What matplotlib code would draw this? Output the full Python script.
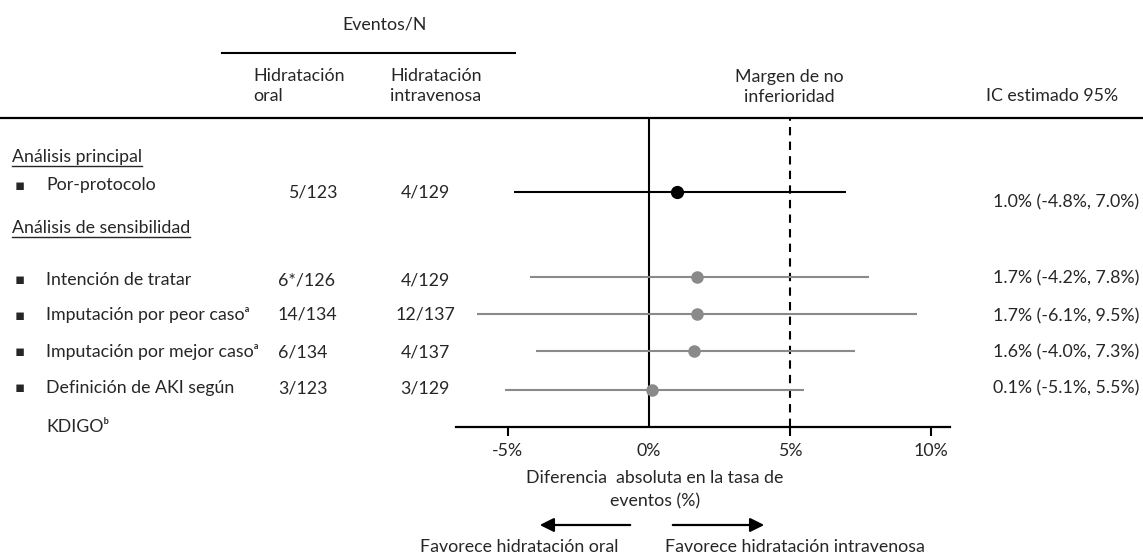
"""Forest plot: hidratación oral vs intravenosa (no inferioridad)."""
import matplotlib

matplotlib.use("Agg")
import matplotlib.pyplot as plt
from matplotlib.lines import Line2D
from matplotlib.patches import FancyArrowPatch

plt.rcParams["font.family"] = ["Lato", "DejaVu Sans"]

# --- data -------------------------------------------------------------
analyses = [
    "Por-protocolo",
    "Intención de tratar",
    "Imputación por peor casoᵃ",
    "Imputación por mejor casoᵃ",
    "Definición de AKI según",
]
oral_events = ["5/123", "6*/126", "14/134", "6/134", "3/123"]
iv_events = ["4/129", "4/129", "12/137", "4/137", "3/129"]
estimate = [1.0, 1.7, 1.7, 1.6, 0.1]
ci_low = [-4.8, -4.2, -6.1, -4.0, -5.1]
ci_high = [7.0, 7.8, 9.5, 7.3, 5.5]
margin = 5.0
x_ticks = [-5, 0, 5, 10]
x_ticklabels = ["-5%", "0%", "5%", "10%"]

# --- layout (pixels of the 1143x557 canvas) ---------------------------
W, H = 1143, 557
row_y = [192, 277, 314, 351, 390]          # marker rows
label_y = [185, 280, 315, 352, 388]
num_y = [193, 280, 315, 352, 388]
ci_y = [202, 278, 316, 352, 388]
TXT = "#262626"
GREY = "#8a8a8a"
FS = 12.8


def fx(x):
    return x / W


def fy(y):
    return 1 - y / H


fig = plt.figure(figsize=(W / 100, H / 100), dpi=100)

# forest panel
ax_l, ax_r, ax_top, ax_bot = 456, 950, 118, 427
ax = fig.add_axes([fx(ax_l), fy(ax_bot), (ax_r - ax_l) / W, (ax_bot - ax_top) / H])
ax.set_xlim(-6.84, 10.67)
ax.set_ylim(ax_bot, ax_top)
for s in ("top", "right", "left"):
    ax.spines[s].set_visible(False)
ax.spines["bottom"].set_linewidth(1.6)
ax.set_yticks([])
ax.set_xticks(x_ticks)
ax.set_xticklabels(x_ticklabels, fontsize=FS, color=TXT)
ax.tick_params(axis="x", length=6.5, width=1.5, pad=5)
ax.xaxis.get_major_ticks()[1].tick1line.set_visible(False)
ax.patch.set_alpha(0)

ax.axvline(0, color="black", lw=1.5, zorder=1)
ax.axvline(margin, color="black", lw=1.5, ls=(0, (4, 3)), zorder=1)

colors = ["black"] + [GREY] * (len(analyses) - 1)
ax.hlines(row_y, ci_low, ci_high, colors=colors, lw=1.5, zorder=2)
for y, e, c in zip(row_y, estimate, colors):
    ax.plot(e, y, "o", color=c, ms=8.5 if c == "black" else 8, zorder=3)

# table headers
fig.text(fx(385), fy(25), "Eventos/N", fontsize=FS, color=TXT, ha="center", va="center")
fig.add_artist(Line2D([fx(222), fx(515)], [fy(53)] * 2, color="black", lw=1.5))
fig.text(fx(253), fy(86), "Hidratación\noral", fontsize=FS, color=TXT,
         ha="left", va="center", linespacing=1.25)
fig.text(fx(390), fy(86), "Hidratación\nintravenosa", fontsize=FS, color=TXT,
         ha="left", va="center", linespacing=1.25)
fig.text(fx(789), fy(87), "Margen de no\ninferioridad", fontsize=FS, color=TXT,
         ha="center", va="center", linespacing=1.25)
fig.text(fx(1052), fy(96), "IC estimado 95%", fontsize=FS, color=TXT, ha="center", va="center")
fig.add_artist(Line2D([0, 1], [fy(118)] * 2, color="black", lw=1.6))

# section headers (underlined)
sections = [
    fig.text(fx(12), fy(157), "Análisis principal", fontsize=FS, color=TXT, va="center"),
    fig.text(fx(12), fy(228), "Análisis de sensibilidad", fontsize=FS, color=TXT, va="center"),
]

# rows
for i, name in enumerate(analyses):
    fig.text(fx(20), fy(label_y[i]), "▪", fontsize=FS - 2, color=TXT,
             ha="center", va="center", family="DejaVu Sans")
    fig.text(fx(46), fy(label_y[i]), name, fontsize=FS, color=TXT, va="center")
    ox = 313 if i == 0 else 278
    fig.text(fx(ox), fy(num_y[i]), oral_events[i], fontsize=FS, color=TXT,
             ha="center" if i == 0 else "left", va="center")
    fig.text(fx(425), fy(num_y[i]), iv_events[i], fontsize=FS, color=TXT,
             ha="center", va="center")
    ci_txt = f"{estimate[i]:.1f}% ({ci_low[i]:.1f}%, {ci_high[i]:.1f}%)"
    fig.text(fx(993), fy(ci_y[i]), ci_txt, fontsize=FS, color=TXT, va="center")
fig.text(fx(46), fy(427), "KDIGOᵇ", fontsize=FS, color=TXT, va="center")

# axis caption and direction arrows
fig.text(fx(655), fy(478), "Diferencia  absoluta en la tasa de", fontsize=FS,
         color=TXT, ha="center", va="center")
fig.text(fx(655), fy(501), "eventos (%)", fontsize=FS, color=TXT, ha="center", va="center")
arrow_kw = dict(arrowstyle="-|>,head_length=0.6,head_width=0.3", mutation_scale=14,
                lw=1.6, color="black", transform=fig.transFigure)
fig.add_artist(FancyArrowPatch((fx(633), fy(525)), (fx(537), fy(525)), **arrow_kw))
fig.add_artist(FancyArrowPatch((fx(670), fy(525)), (fx(767), fy(525)), **arrow_kw))
fig.text(fx(519), fy(547), "Favorece hidratación oral", fontsize=FS, color=TXT,
         ha="center", va="center")
fig.text(fx(795), fy(547), "Favorece hidratación intravenosa", fontsize=FS, color=TXT,
         ha="center", va="center")

# underline section headers from their rendered extent
fig.canvas.draw()
inv = fig.transFigure.inverted()
for t in sections:
    bb = t.get_window_extent().transformed(inv)
    fig.add_artist(Line2D([bb.x0, bb.x1], [bb.y0 - 1.0 / H] * 2, color=TXT, lw=1.0))

fig.savefig("out.png", dpi=100)
